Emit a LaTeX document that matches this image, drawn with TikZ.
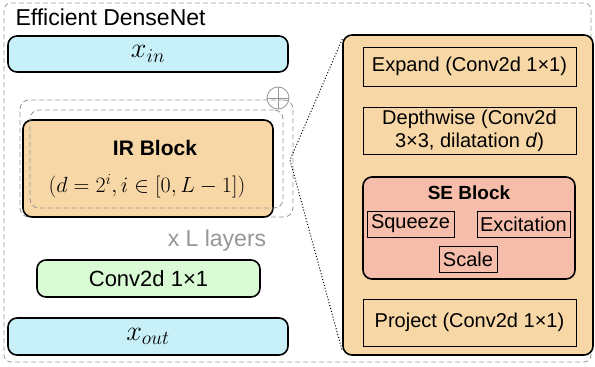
\documentclass[tikz,border=0pt]{standalone}
\usepackage{graphicx}
\usepackage[no-math]{fontspec}
\setmainfont{Liberation Sans}
\usetikzlibrary{positioning}

\definecolor{ioblue}{RGB}{200,240,248}
\definecolor{irorange}{RGB}{248,215,167}
\definecolor{convgreen}{RGB}{217,250,212}
\definecolor{sesalmon}{RGB}{246,190,170}
\definecolor{framegray}{RGB}{150,150,150}

\tikzset{
    block/.style={rectangle, rounded corners=9pt, draw, line width=1.6pt, inner sep=0pt, align=center},
    substep/.style={rectangle, draw, line width=0.8pt, inner sep=0pt, align=center},
    layer/.style={rectangle, rounded corners=9pt, draw=framegray, dash pattern=on 5pt off 3pt, line width=0.8pt},
}

\begin{document}
\begin{tikzpicture}[x=1pt, y=-1pt, font=\fontsize{20}{23}\selectfont]
    \useasboundingbox (0,0) rectangle (595,367);
    \node (frame) [layer, rounded corners=7pt, minimum width=587pt, minimum height=359pt] at (297.5,182.5) {};
    \node (title) [anchor=west, font=\fontsize{23}{26}\selectfont] at (12,17) {Efficient DenseNet};

    % left column
    \node (xin) [block, fill=ioblue, minimum width=280pt, minimum height=36pt] at (148,54) {\scalebox{1.36}{$x_{in}$}};

    \node (layerB) [layer, minimum width=273pt, minimum height=117pt] at (156.5,158.5) {};
    \node (irblock) [block, fill=irorange, minimum width=250pt, minimum height=97pt] at (148,168.5) {};
    \node (layerA) [layer, minimum width=253pt, minimum height=98pt] at (156.5,159) {};
    \node (irtitle) [font=\fontsize{21}{24}\selectfont\bfseries] at (155,148) {IR Block};
    \node (irformula) at (147,186) {\scalebox{1.06}{$(d = 2^i, i \in [0, L-1])$}};

    \node (plus) [circle, draw=framegray, line width=0.8pt, inner sep=0pt, minimum size=22pt] at (278,98) {};
    \draw [framegray, line width=0.8pt] (plus.north) -- (plus.south);
    \draw [framegray, line width=0.8pt] (plus.west) -- (plus.east);

    \node (layers) [text=framegray, font=\fontsize{23}{26}\selectfont] at (217,241) {x L layers};
    \node (conv) [block, fill=convgreen, minimum width=223pt, minimum height=37pt, font=\fontsize{22}{25}\selectfont] at (148.5,278.5) {Conv2d 1×1};
    \node (xout) [block, fill=ioblue, minimum width=280pt, minimum height=37pt] at (148,336.5) {\scalebox{1.36}{$x_{out}$}};

    % zoom on the IR block
    \node (irdetail) [block, fill=irorange, minimum width=250pt, minimum height=320pt] at (468,195) {};
    \coordinate (zoom) at (290,160);
    \draw [dotted, line width=1pt] ([yshift=-5pt]irdetail.north west) -- (zoom) -- ([yshift=5pt]irdetail.south west);

    \node (expand) [substep, minimum width=213pt, minimum height=39pt] at (469.5,66.5) {Expand (Conv2d 1×1)};
    \node (depthwise) [substep, minimum width=213pt, minimum height=47pt] at (469.5,130.5) {Depthwise (Conv2d\\3×3, dilatation \textit{d})};

    \node (seblock) [block, fill=sesalmon, minimum width=212pt, minimum height=102pt] at (469,228) {};
    \node (setitle) [below=6pt of seblock.north, font=\fontsize{19}{22}\selectfont\bfseries] {SE Block};
    \node (squeeze) [substep, minimum width=87pt, minimum height=26pt] at (410.5,224) {Squeeze};
    \node (excitation) [substep, minimum width=93pt, minimum height=26pt] at (523.5,224) {Excitation};
    \node (scale) [substep, minimum width=58pt, minimum height=26pt] at (468,259) {Scale};

    \node (project) [substep, minimum width=213pt, minimum height=47pt] at (469.5,322.5) {Project (Conv2d 1×1)};
\end{tikzpicture}
\end{document}
